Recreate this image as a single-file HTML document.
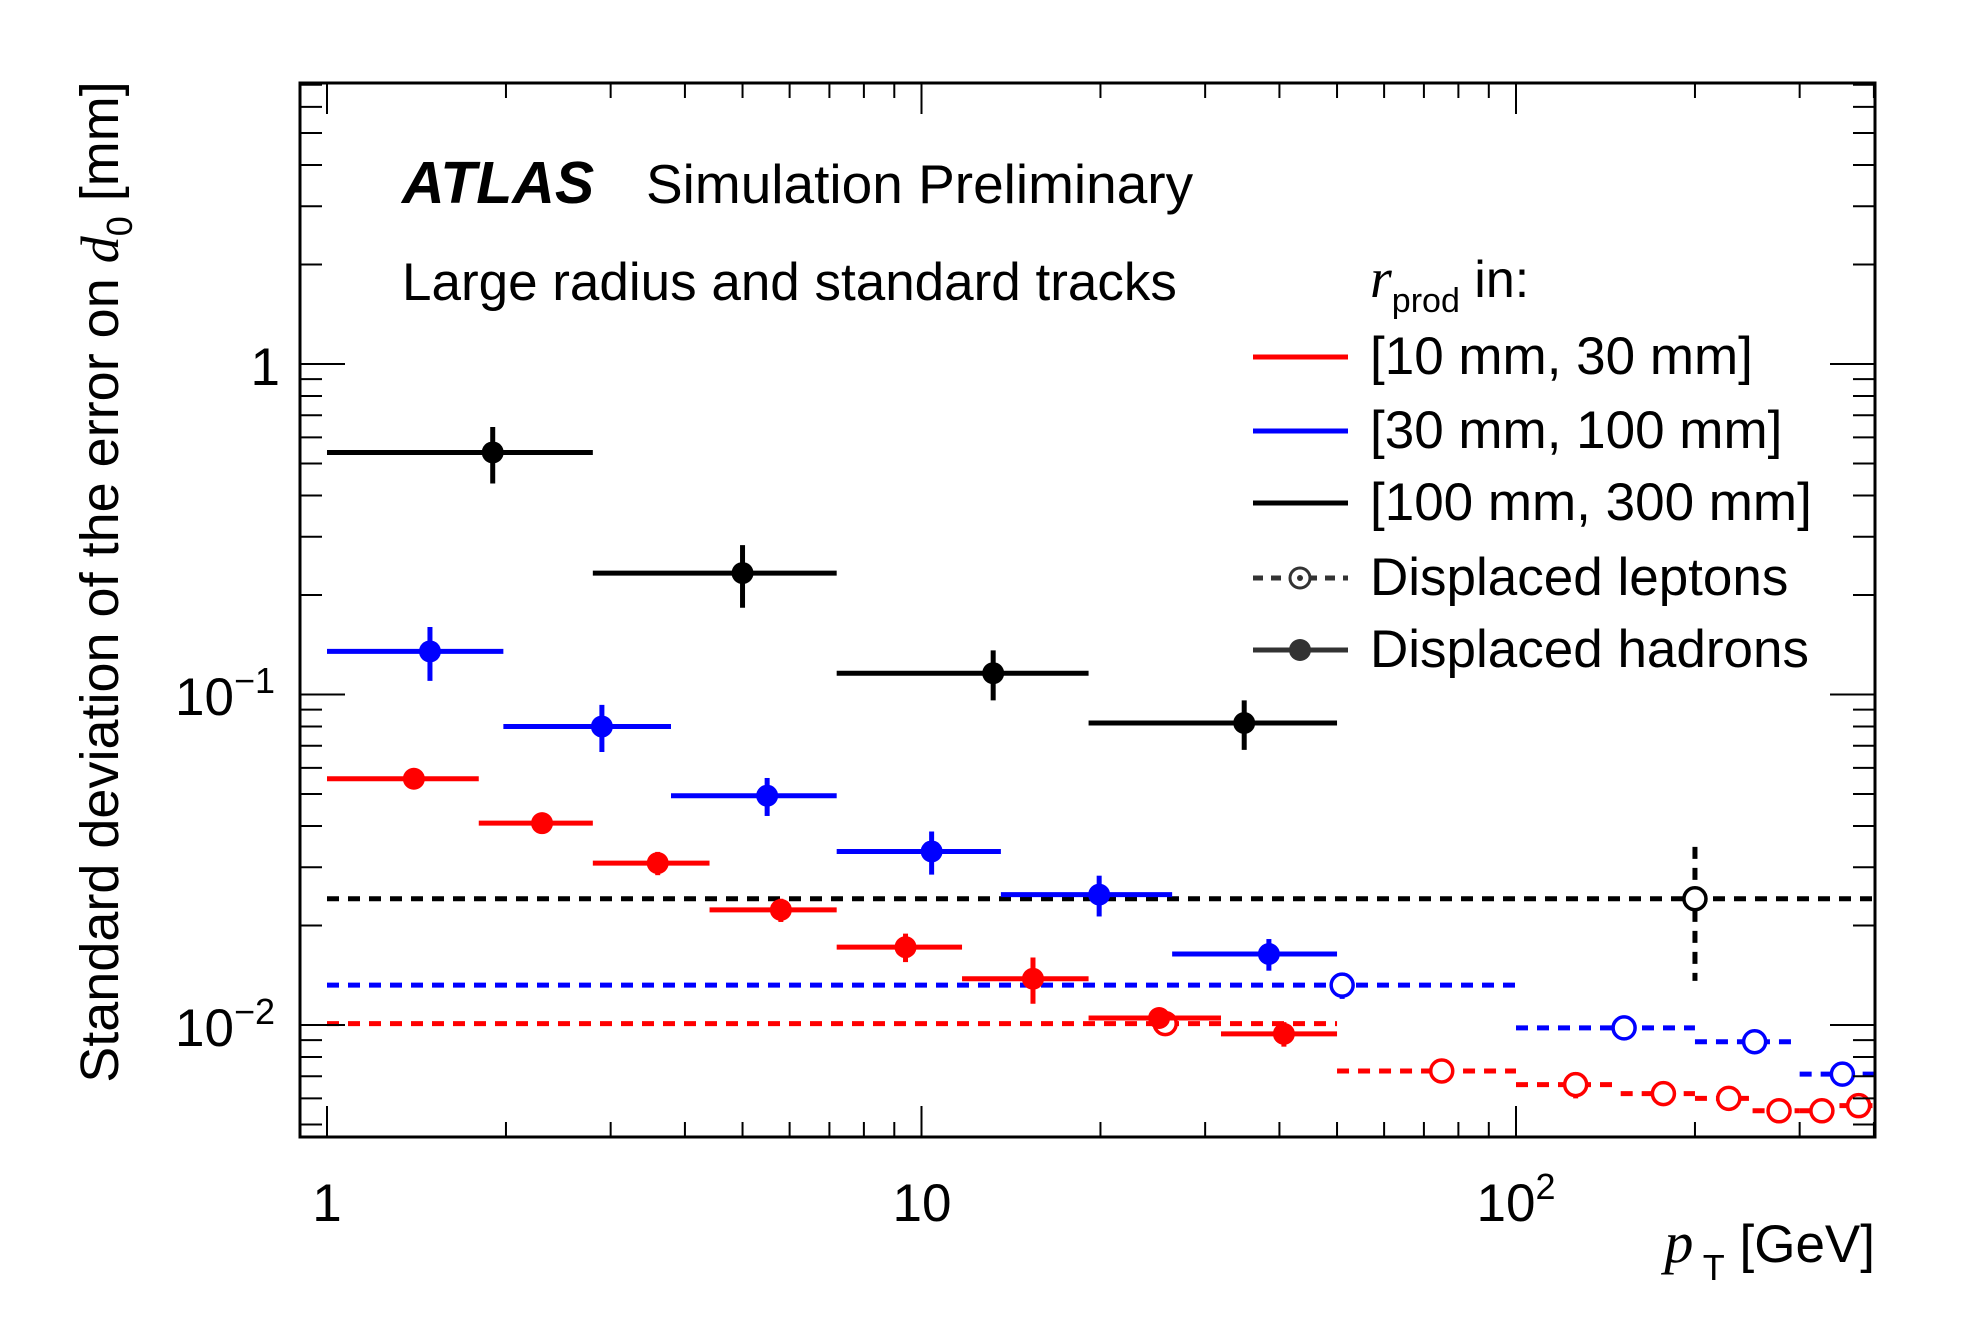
<!DOCTYPE html>
<html><head><meta charset="utf-8">
<style>
html,body{margin:0;padding:0;background:#fff;}
svg{display:block;font-family:"Liberation Sans",sans-serif;}
</style></head>
<body>
<svg id="chart" width="1979" height="1344" viewBox="0 0 1979 1344" xmlns="http://www.w3.org/2000/svg">
<rect width="1979" height="1344" fill="#fff"/>
<g id="marks"></g>
<g id="axes"></g>
<rect x="300" y="83" width="1575" height="1054" fill="none" stroke="#000" stroke-width="3"/>
<text x="327" y="1221" font-size="53" text-anchor="middle">1</text>
<text x="922" y="1221" font-size="53" text-anchor="middle">10</text>
<text x="1516" y="1221" font-size="53" text-anchor="middle">10<tspan dy="-22" font-size="36">2</tspan></text>
<text x="280" y="385" font-size="53" text-anchor="end">1</text>
<text x="275" y="715" font-size="53" text-anchor="end">10<tspan dy="-22" font-size="36">−1</tspan></text>
<text x="275" y="1046" font-size="53" text-anchor="end">10<tspan dy="-22" font-size="36">−2</tspan></text>
<text x="1875" y="1262" font-size="53" text-anchor="end"><tspan font-family="Liberation Serif" font-style="italic" font-size="58">p</tspan><tspan dy="18" font-size="36"> T</tspan><tspan dy="-18">   [GeV]</tspan></text>
<text transform="translate(118,582) rotate(-90)" font-size="54" text-anchor="middle">Standard deviation of the error on <tspan font-family="Liberation Serif" font-style="italic">d</tspan><tspan dy="14" font-size="36">0</tspan><tspan dy="-14"> [mm]</tspan></text>
<text x="402" y="203" font-size="59" font-weight="bold" font-style="italic">ATLAS</text>
<text x="646" y="203" font-size="55">Simulation Preliminary</text>
<text x="402" y="300" font-size="53">Large radius and standard tracks</text>
<g>
<text x="1370" y="297" font-size="52"><tspan font-family="Liberation Serif" font-style="italic" font-size="56">r</tspan><tspan dy="15" font-size="34">prod</tspan><tspan dy="-15"> in:</tspan></text>
<line x1="1253" y1="357" x2="1348" y2="357" stroke="#f00" stroke-width="5"/>
<text x="1370" y="374" font-size="53">[10 mm, 30 mm]</text>
<line x1="1253" y1="431" x2="1348" y2="431" stroke="#00f" stroke-width="5"/>
<text x="1370" y="448" font-size="53">[30 mm, 100 mm]</text>
<line x1="1253" y1="503" x2="1348" y2="503" stroke="#000" stroke-width="5"/>
<text x="1370" y="520" font-size="53">[100 mm, 300 mm]</text>
<line x1="1253" y1="578" x2="1348" y2="578" stroke="#333" stroke-width="5" stroke-dasharray="10,8"/>
<circle cx="1300" cy="578" r="10" fill="#fff" stroke="#333" stroke-width="3"/>
<circle cx="1300" cy="578" r="3" fill="#333"/>
<text x="1370" y="595" font-size="53">Displaced leptons</text>
<line x1="1253" y1="650" x2="1348" y2="650" stroke="#333" stroke-width="5"/>
<circle cx="1300" cy="650" r="11" fill="#333"/>
<text x="1370" y="667" font-size="53">Displaced hadrons</text>
</g>
</svg>
<script>
// hadrons
const blackEdges = [1, 2.8, 7.2, 19.1, 50];
const blackX = [1.9, 5.0, 13.2, 34.9];
const blackY = [0.54, 0.233, 0.116, 0.082];
const blackErr = [0.105, 0.05, 0.02, 0.014];
const blueEdges = [1, 1.98, 3.79, 7.2, 13.6, 26.4, 50];
const blueX = [1.49, 2.9, 5.5, 10.4, 19.9, 38.4];
const blueY = [0.135, 0.080, 0.0494, 0.0335, 0.0248, 0.0164];
const blueErr = [0.025, 0.013, 0.0065, 0.005, 0.0035, 0.0018];
const redEdges = [1, 1.8, 2.8, 4.4, 7.2, 11.7, 19.1, 31.9, 50];
const redX = [1.4, 2.3, 3.6, 5.8, 9.4, 15.4, 25.1, 40.7];
const redY = [0.0556, 0.0408, 0.0309, 0.0223, 0.0172, 0.0138, 0.0105, 0.0094];
const redErr = [0.003, 0.0022, 0.0025, 0.0018, 0.0017, 0.0022, 0.0005, 0.0008];
// leptons
const lepBlackEdges = [1, 400];
const lepBlackX = [200];
const lepBlackY = [0.0241];
const lepBlackErr = [0.0105];
const lepBlueEdges = [1, 100, 200, 300, 400];
const lepBlueX = [51, 152, 252, 354];
const lepBlueY = [0.0132, 0.0098, 0.0089, 0.0071];
const lepBlueErr = [0.0012, 0.0004, 0.0007, 0.0003];
const lepRedEdges = [1, 50, 100, 150, 200, 250, 300, 350, 400];
const lepRedX = [25.7, 75, 126, 177, 228, 277, 327, 377];
const lepRedY = [0.0101, 0.00726, 0.0066, 0.0062, 0.0060, 0.0055, 0.0055, 0.0057];
const lepRedErr = [0.0008, 0.0002, 0.0006, 0.0005, 0.0004, 0.0002, 0.0002, 0.0003];

const NS = "http://www.w3.org/2000/svg";
function sx(v){ return 327 + 594.5*Math.log10(v); }
function sy(v){ return 364 - 330.5*Math.log10(v); }
const marks = document.getElementById('marks');
const axes = document.getElementById('axes');
function mk(tag, attrs, parent){
  const e = document.createElementNS(NS, tag);
  for (const k in attrs) e.setAttribute(k, attrs[k]);
  parent.appendChild(e);
  return e;
}
function series(edges, xs, ys, errs, color, dashed, name){
  const g = mk('g', {}, marks);
  
  
  for (let i = 0; i < ys.length; i++){
    const x1 = Math.max(sx(edges[i]), 300), x2 = Math.min(sx(edges[i+1]), 1875);
    const y = sy(ys[i]);
    const l = mk('line', {x1:x1, x2:x2, y1:y, y2:y, stroke:color, 'stroke-width':5}, g);
    if (dashed) l.setAttribute('stroke-dasharray', '12,9');
    
    
    const cx = sx(xs[i]);
    const e = mk('line', {x1:cx, x2:cx, y1:sy(ys[i]+errs[i]), y2:sy(Math.max(ys[i]-errs[i], 1e-4)), stroke:color, 'stroke-width':5}, g);
    if (dashed) e.setAttribute('stroke-dasharray', '12,9');
    
    
    const c = mk('circle', {cx:cx, cy:y, r: 11}, g);
    if (dashed){ c.setAttribute('fill', '#fff'); c.setAttribute('stroke', color); c.setAttribute('stroke-width', 3.5); }
    else c.setAttribute('fill', color);
    
    
  }
}
series(lepBlackEdges, lepBlackX, lepBlackY, lepBlackErr, '#000', true, 'lepton-black');
series(lepBlueEdges, lepBlueX, lepBlueY, lepBlueErr, '#00f', true, 'lepton-blue');
series(lepRedEdges, lepRedX, lepRedY, lepRedErr, '#f00', true, 'lepton-red');
series(blackEdges, blackX, blackY, blackErr, '#000', false, 'hadron-black');
series(blueEdges, blueX, blueY, blueErr, '#00f', false, 'hadron-blue');
series(redEdges, redX, redY, redErr, '#f00', false, 'hadron-red');

// ticks
for (let d = 0; d <= 2; d++){
  for (let m = 1; m <= 9; m++){
    const v = m*Math.pow(10, d);
    if (v > 401) break;
    const x = sx(v), len = m === 1 ? 31 : 15;
    const t1 = mk('line', {x1:x, x2:x, y1:1137, y2:1137-len, stroke:'#000', 'stroke-width':2}, axes);
    
    
    const t2 = mk('line', {x1:x, x2:x, y1:83, y2:83+len, stroke:'#000', 'stroke-width':2}, axes);
    
    
  }
}
for (let d = -3; d <= 0; d++){
  for (let m = 1; m <= 9; m++){
    const v = m*Math.pow(10, d);
    const y = sy(v);
    if (y > 1137 || y < 83) continue;
    const len = m === 1 ? 45 : 22;
    const t1 = mk('line', {x1:300, x2:300+len, y1:y, y2:y, stroke:'#000', 'stroke-width':2}, axes);
    
    
    const t2 = mk('line', {x1:1875, x2:1875-len, y1:y, y2:y, stroke:'#000', 'stroke-width':2}, axes);
    
    
  }
}
</script>
</body></html>
